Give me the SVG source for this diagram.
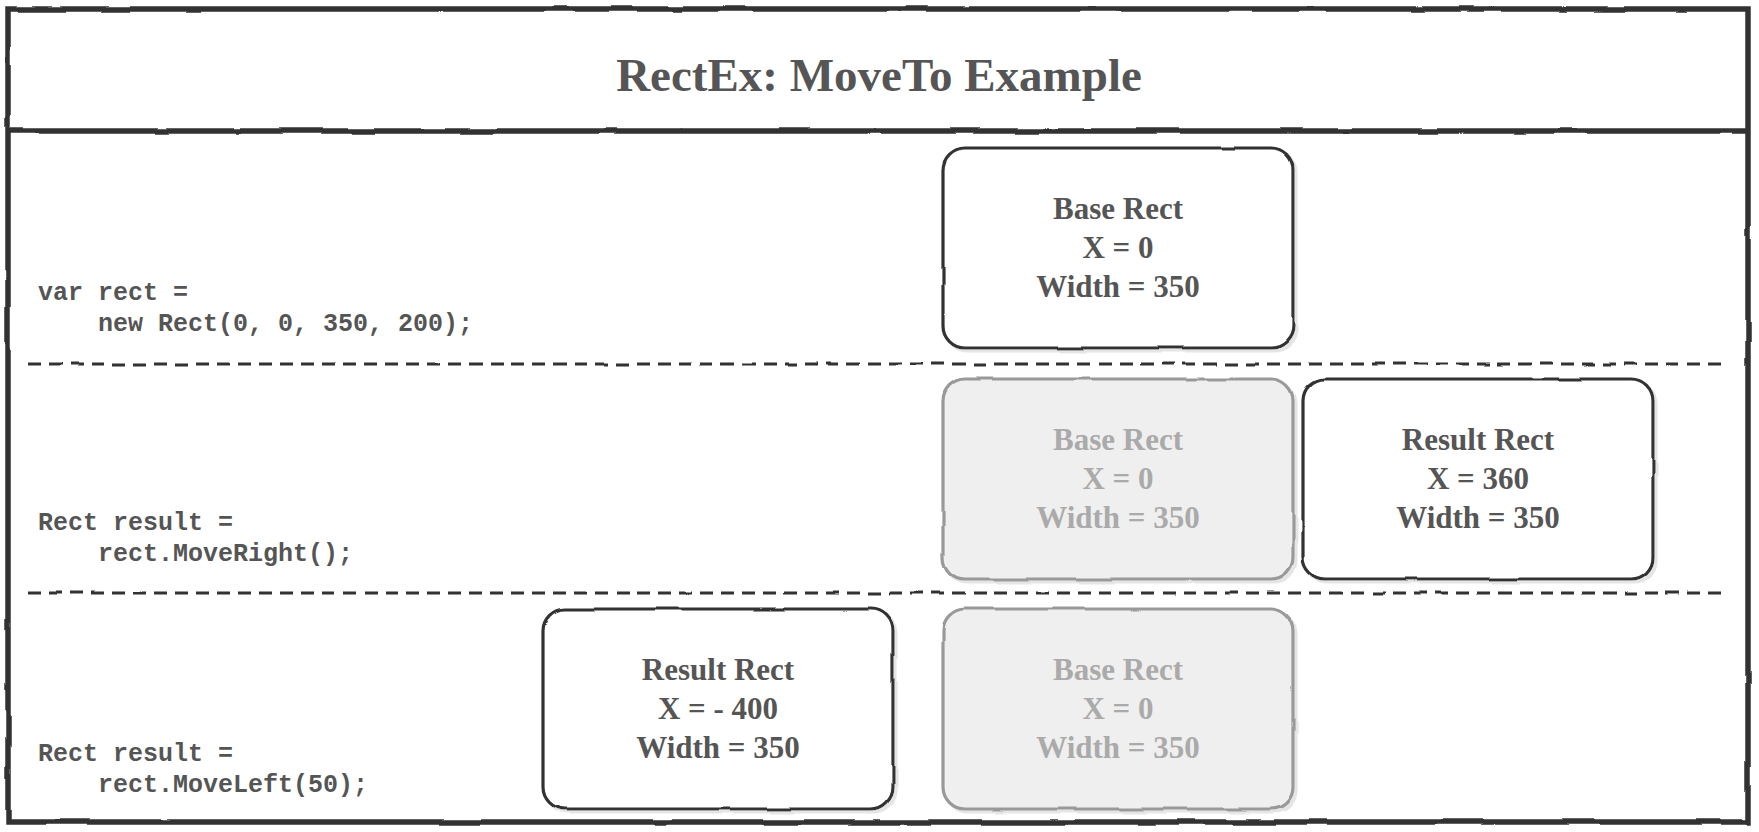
<svg xmlns="http://www.w3.org/2000/svg" width="1759" height="832" viewBox="0 0 1759 832">
<defs>
<filter id="sketch" x="-5%" y="-5%" width="110%" height="110%">
<feTurbulence type="fractalNoise" baseFrequency="0.02" numOctaves="2" seed="3" result="n"/>
<feDisplacementMap in="SourceGraphic" in2="n" scale="3" xChannelSelector="R" yChannelSelector="G"/>
</filter>
<filter id="shadow" x="-5%" y="-5%" width="115%" height="115%">
<feTurbulence type="fractalNoise" baseFrequency="0.02" numOctaves="2" seed="7" result="n"/>
<feDisplacementMap in="SourceGraphic" in2="n" scale="3" xChannelSelector="R" yChannelSelector="G" result="d"/>
<feOffset in="d" dx="3" dy="3" result="o"/>
<feColorMatrix in="o" type="matrix" values="0 0 0 0 0.7  0 0 0 0 0.7  0 0 0 0 0.7  0 0 0 0.7 0" result="s"/>
<feMerge><feMergeNode in="s"/><feMergeNode in="d"/></feMerge>
</filter>
</defs>
<style>
.frame{fill:none;stroke:#333;stroke-width:5.5}
.sep{fill:none;stroke:#333;stroke-width:2.8;stroke-dasharray:13 8}
.box{fill:#fff;stroke:#333;stroke-width:3.2}
.ghost{fill:#efefef;stroke:#999;stroke-width:3.2}
.title{font-family:"Liberation Serif","Times New Roman",serif;font-weight:bold;font-size:47px;fill:#555;text-anchor:middle}
.lbl{font-family:"Liberation Serif","Times New Roman",serif;font-weight:bold;font-size:31px;fill:#555;text-anchor:middle}
.glbl{font-family:"Liberation Serif","Times New Roman",serif;font-weight:bold;font-size:31px;fill:#aaa;text-anchor:middle}
.code{font-family:"Liberation Mono","DejaVu Sans Mono",monospace;font-weight:bold;font-size:25px;fill:#555;white-space:pre}
</style>
<rect width="1759" height="832" fill="#fff"/>
<g id="frame" filter="url(#sketch)">
<rect class="frame" x="8" y="9" width="1740" height="813"/>
<line class="frame" x1="8" y1="131" x2="1748" y2="131"/>
</g>
<g id="title">
<text class="title" x="879" y="91">RectEx: MoveTo Example</text>
</g>
<g id="connectors" filter="url(#sketch)">
<line class="sep" x1="28" y1="364" x2="1728" y2="364"/>
<line class="sep" x1="28" y1="593" x2="1728" y2="593"/>
</g>
<g id="code1">
<text class="code" x="38" y="300">var rect =</text>
<text class="code" x="38" y="331">    new Rect(0, 0, 350, 200);</text>
</g>
<g id="code2">
<text class="code" x="38" y="530">Rect result =</text>
<text class="code" x="38" y="561">    rect.MoveRight();</text>
</g>
<g id="code3">
<text class="code" x="38" y="761">Rect result =</text>
<text class="code" x="38" y="792">    rect.MoveLeft(50);</text>
</g>
<g id="base1">
<rect class="box" x="943" y="148" width="350" height="200" rx="22" filter="url(#shadow)"/>
<text class="lbl" x="1118" y="219">Base Rect</text>
<text class="lbl" x="1118" y="258">X = 0</text>
<text class="lbl" x="1118" y="297">Width = 350</text>
</g>
<g id="base2">
<rect class="ghost" x="943" y="379" width="350" height="200" rx="22" filter="url(#shadow)"/>
<text class="glbl" x="1118" y="450">Base Rect</text>
<text class="glbl" x="1118" y="489">X = 0</text>
<text class="glbl" x="1118" y="528">Width = 350</text>
</g>
<g id="result2">
<rect class="box" x="1303" y="379" width="350" height="200" rx="22" filter="url(#shadow)"/>
<text class="lbl" x="1478" y="450">Result Rect</text>
<text class="lbl" x="1478" y="489">X = 360</text>
<text class="lbl" x="1478" y="528">Width = 350</text>
</g>
<g id="result3">
<rect class="box" x="543" y="609" width="350" height="200" rx="22" filter="url(#shadow)"/>
<text class="lbl" x="718" y="680">Result Rect</text>
<text class="lbl" x="718" y="719">X = - 400</text>
<text class="lbl" x="718" y="758">Width = 350</text>
</g>
<g id="base3">
<rect class="ghost" x="943" y="609" width="350" height="200" rx="22" filter="url(#shadow)"/>
<text class="glbl" x="1118" y="680">Base Rect</text>
<text class="glbl" x="1118" y="719">X = 0</text>
<text class="glbl" x="1118" y="758">Width = 350</text>
</g>
</svg>
